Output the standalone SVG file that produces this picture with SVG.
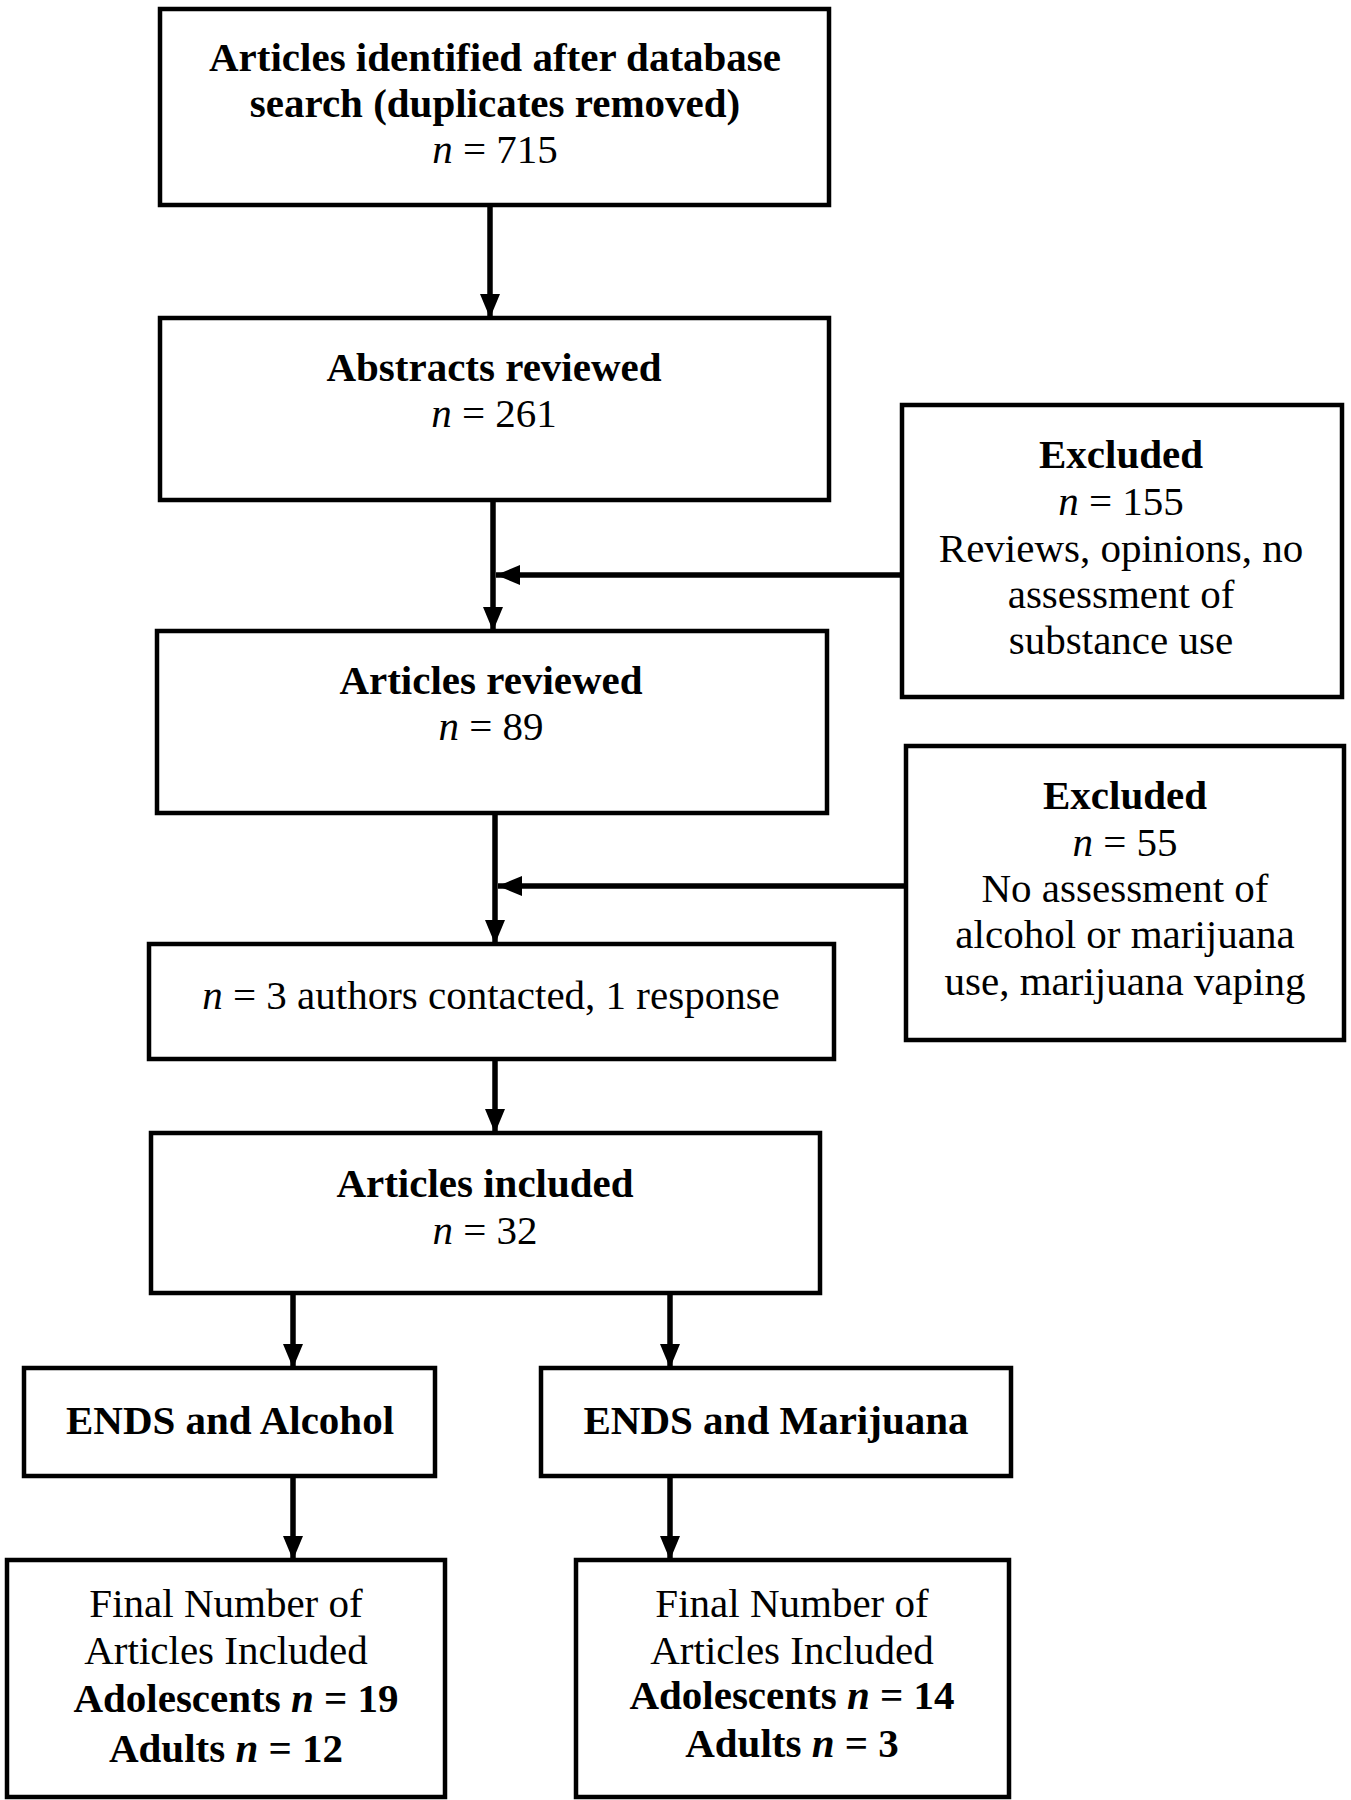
<svg xmlns="http://www.w3.org/2000/svg" width="1351" height="1800" viewBox="0 0 1351 1800">
<defs>
<style>
.box{fill:#fff;stroke:#000;stroke-width:4.5}
.t{font-family:"Liberation Serif","Times New Roman",serif;font-size:41px;fill:#000;text-anchor:middle}
.b{font-weight:bold}
.i{font-style:italic}
.ln{fill:none;stroke:#000;stroke-width:5.5}
</style>
<marker id="ah" markerUnits="userSpaceOnUse" markerWidth="24" markerHeight="20" refX="24" refY="10" orient="auto" viewBox="0 0 24 20">
<path d="M0,0 L24,10 L0,20 z" fill="#000"/>
</marker>
</defs>
<rect width="1351" height="1800" fill="#fff"/>
<g id="connectors">
<line class="ln" x1="490" y1="206" x2="490" y2="318" marker-end="url(#ah)"/>
<line class="ln" x1="493" y1="500" x2="493" y2="631" marker-end="url(#ah)"/>
<line class="ln" x1="902" y1="575" x2="496" y2="575" marker-end="url(#ah)"/>
<line class="ln" x1="495" y1="813" x2="495" y2="944" marker-end="url(#ah)"/>
<line class="ln" x1="906" y1="886" x2="498" y2="886" marker-end="url(#ah)"/>
<line class="ln" x1="495" y1="1059" x2="495" y2="1133" marker-end="url(#ah)"/>
<line class="ln" x1="293" y1="1293" x2="293" y2="1368" marker-end="url(#ah)"/>
<line class="ln" x1="670" y1="1293" x2="670" y2="1368" marker-end="url(#ah)"/>
<line class="ln" x1="293" y1="1476" x2="293" y2="1560" marker-end="url(#ah)"/>
<line class="ln" x1="670" y1="1476" x2="670" y2="1560" marker-end="url(#ah)"/>
</g>
<g id="n1">
<rect class="box" x="160" y="9" width="669" height="196"/>
<text class="t b" x="495" y="71">Articles identified after database</text>
<text class="t b" x="495" y="117">search (duplicates removed)</text>
<text class="t" x="495" y="163"><tspan class="i">n</tspan> = 715</text>
</g>
<g id="n2">
<rect class="box" x="160" y="318" width="669" height="182"/>
<text class="t b" x="494" y="381">Abstracts reviewed</text>
<text class="t" x="494" y="427"><tspan class="i">n</tspan> = 261</text>
</g>
<g id="ex1">
<rect class="box" x="902" y="405" width="440" height="292"/>
<text class="t b" x="1121" y="468">Excluded</text>
<text class="t" x="1121" y="515"><tspan class="i">n</tspan> = 155</text>
<text class="t" x="1121" y="562">Reviews, opinions, no</text>
<text class="t" x="1121" y="608">assessment of</text>
<text class="t" x="1121" y="654">substance use</text>
</g>
<g id="n3">
<rect class="box" x="157" y="631" width="670" height="182"/>
<text class="t b" x="491" y="694">Articles reviewed</text>
<text class="t" x="491" y="740"><tspan class="i">n</tspan> = 89</text>
</g>
<g id="ex2">
<rect class="box" x="906" y="746" width="438" height="294"/>
<text class="t b" x="1125" y="809">Excluded</text>
<text class="t" x="1125" y="856"><tspan class="i">n</tspan> = 55</text>
<text class="t" x="1125" y="902">No assessment of</text>
<text class="t" x="1125" y="948">alcohol or marijuana</text>
<text class="t" x="1125" y="995">use, marijuana vaping</text>
</g>
<g id="n4">
<rect class="box" x="149" y="944" width="685" height="115"/>
<text class="t" x="491" y="1009"><tspan class="i">n</tspan> = 3 authors contacted, 1 response</text>
</g>
<g id="n5">
<rect class="box" x="151" y="1133" width="669" height="160"/>
<text class="t b" x="485" y="1197">Articles included</text>
<text class="t" x="485" y="1244"><tspan class="i">n</tspan> = 32</text>
</g>
<g id="n6">
<rect class="box" x="24" y="1368" width="411" height="108"/>
<text class="t b" x="230" y="1434">ENDS and Alcohol</text>
</g>
<g id="n7">
<rect class="box" x="541" y="1368" width="470" height="108"/>
<text class="t b" x="776" y="1434">ENDS and Marijuana</text>
</g>
<g id="n8">
<rect class="box" x="7" y="1560" width="438" height="237"/>
<text class="t" x="226" y="1617">Final Number of</text>
<text class="t" x="226" y="1664">Articles Included</text>
<text class="t b" x="236" y="1712">Adolescents <tspan class="i">n</tspan> = 19</text>
<text class="t b" x="226" y="1762">Adults <tspan class="i">n</tspan> = 12</text>
</g>
<g id="n9">
<rect class="box" x="576" y="1560" width="433" height="237"/>
<text class="t" x="792" y="1617">Final Number of</text>
<text class="t" x="792" y="1664">Articles Included</text>
<text class="t b" x="792" y="1709">Adolescents <tspan class="i">n</tspan> = 14</text>
<text class="t b" x="792" y="1757">Adults <tspan class="i">n</tspan> = 3</text>
</g>
</svg>
